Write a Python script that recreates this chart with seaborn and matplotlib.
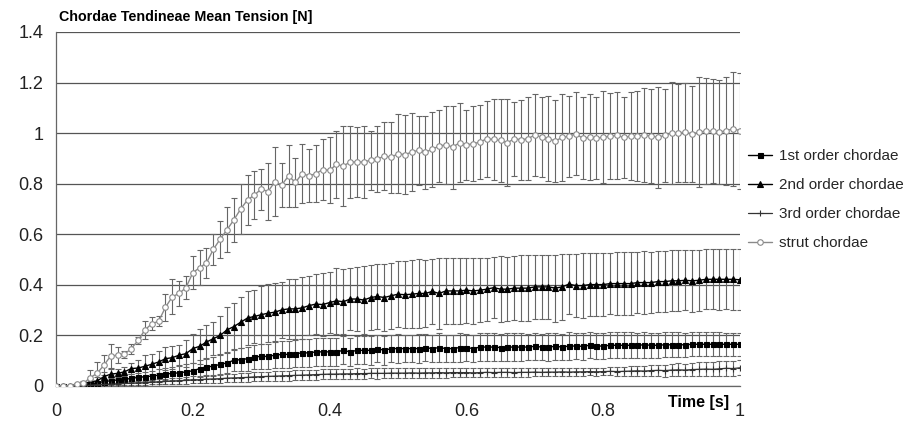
import numpy as np
import pandas as pd
import matplotlib
matplotlib.use("Agg")
import matplotlib.pyplot as plt
import seaborn as sns

# time axis, one sample every 0.01 s
time_s = np.round(np.linspace(0, 1, 101), 2)

# mean tension [N] and error (std) per chordae group
first_mean = [0, 0, 0, 0.003, 0.008, 0.008, 0.013, 0.017, 0.021, 0.024,
              0.026, 0.03, 0.034, 0.037, 0.039, 0.043, 0.047, 0.05, 0.052, 0.056,
              0.06, 0.069, 0.076, 0.078, 0.086, 0.091, 0.102, 0.104, 0.108, 0.115,
              0.117, 0.117, 0.122, 0.125, 0.125, 0.128, 0.131, 0.131, 0.135, 0.135,
              0.135, 0.135, 0.141, 0.135, 0.141, 0.141, 0.141, 0.148, 0.141, 0.148,
              0.148, 0.148, 0.148, 0.148, 0.152, 0.148, 0.152, 0.148, 0.148, 0.152,
              0.152, 0.148, 0.154, 0.154, 0.154, 0.152, 0.154, 0.154, 0.154, 0.154,
              0.157, 0.154, 0.154, 0.157, 0.154, 0.158, 0.158, 0.157, 0.161, 0.158,
              0.158, 0.161, 0.161, 0.161, 0.161, 0.161, 0.163, 0.161, 0.161, 0.163,
              0.163, 0.163, 0.163, 0.165, 0.165, 0.165, 0.165, 0.165, 0.165, 0.165,
              0.165]
first_err = [0, 0, 0, 0.002, 0.004, 0.006, 0.008, 0.01, 0.012, 0.013,
             0.015, 0.016, 0.018, 0.02, 0.021, 0.023, 0.025, 0.026, 0.028, 0.03,
             0.032, 0.034, 0.036, 0.037, 0.039, 0.041, 0.043, 0.045, 0.047, 0.048,
             0.05, 0.05, 0.051, 0.052, 0.053, 0.053, 0.054, 0.054, 0.055, 0.055,
             0.055, 0.056, 0.055, 0.056, 0.055, 0.055, 0.056, 0.055, 0.056, 0.055,
             0.056, 0.055, 0.055, 0.056, 0.055, 0.055, 0.056, 0.055, 0.055, 0.056,
             0.055, 0.055, 0.054, 0.055, 0.054, 0.054, 0.055, 0.054, 0.054, 0.053,
             0.054, 0.053, 0.054, 0.053, 0.053, 0.054, 0.053, 0.053, 0.052, 0.053,
             0.052, 0.052, 0.051, 0.052, 0.051, 0.05, 0.051, 0.05, 0.05, 0.049,
             0.049, 0.049, 0.048, 0.048, 0.048, 0.047, 0.047, 0.047, 0.046, 0.046,
             0.046]

second_mean = [0, 0, 0, 0.003, 0.008, 0.017, 0.02, 0.037, 0.047, 0.05,
               0.056, 0.069, 0.071, 0.078, 0.086, 0.095, 0.108, 0.112, 0.122, 0.128,
               0.148, 0.157, 0.174, 0.187, 0.2, 0.222, 0.235, 0.252, 0.269, 0.275,
               0.282, 0.288, 0.292, 0.301, 0.305, 0.305, 0.309, 0.318, 0.324, 0.322,
               0.33, 0.337, 0.333, 0.344, 0.344, 0.34, 0.35, 0.354, 0.35, 0.357,
               0.363, 0.361, 0.363, 0.366, 0.366, 0.374, 0.366, 0.376, 0.376, 0.376,
               0.379, 0.376, 0.379, 0.383, 0.389, 0.383, 0.383, 0.387, 0.387, 0.387,
               0.392, 0.392, 0.392, 0.387, 0.392, 0.403, 0.397, 0.397, 0.401, 0.401,
               0.401, 0.405, 0.405, 0.405, 0.405, 0.409, 0.409, 0.409, 0.413, 0.413,
               0.416, 0.416, 0.418, 0.416, 0.418, 0.422, 0.422, 0.422, 0.422, 0.422,
               0.42]
second_err = [0, 0, 0, 0.003, 0.006, 0.012, 0.015, 0.018, 0.02, 0.019,
              0.02, 0.02, 0.03, 0.044, 0.04, 0.042, 0.046, 0.045, 0.039, 0.052,
              0.058, 0.07, 0.066, 0.065, 0.078, 0.089, 0.092, 0.1, 0.107, 0.105,
              0.114, 0.115, 0.114, 0.112, 0.12, 0.12, 0.122, 0.117, 0.118, 0.126,
              0.122, 0.131, 0.128, 0.124, 0.127, 0.135, 0.128, 0.127, 0.133, 0.13,
              0.131, 0.133, 0.134, 0.135, 0.131, 0.127, 0.139, 0.131, 0.129, 0.129,
              0.128, 0.129, 0.126, 0.124, 0.121, 0.131, 0.127, 0.127, 0.131, 0.131,
              0.128, 0.128, 0.128, 0.133, 0.13, 0.119, 0.125, 0.13, 0.124, 0.124,
              0.124, 0.122, 0.125, 0.124, 0.123, 0.122, 0.124, 0.121, 0.12, 0.122,
              0.12, 0.121, 0.119, 0.122, 0.12, 0.118, 0.119, 0.12, 0.118, 0.121,
              0.12]

third_mean = [0, 0, 0, 0, 0.001, 0.003, 0.005, 0.006, 0.007, 0.008,
              0.01, 0.011, 0.012, 0.013, 0.015, 0.016, 0.018, 0.019, 0.021, 0.022,
              0.024, 0.025, 0.027, 0.028, 0.029, 0.031, 0.032, 0.033, 0.034, 0.036,
              0.037, 0.038, 0.039, 0.04, 0.041, 0.042, 0.043, 0.044, 0.045, 0.046,
              0.047, 0.047, 0.048, 0.048, 0.049, 0.049, 0.05, 0.05, 0.05, 0.051,
              0.051, 0.051, 0.052, 0.051, 0.052, 0.052, 0.053, 0.052, 0.053, 0.053,
              0.053, 0.052, 0.053, 0.054, 0.053, 0.054, 0.054, 0.053, 0.054, 0.054,
              0.055, 0.054, 0.055, 0.055, 0.056, 0.055, 0.056, 0.056, 0.057, 0.056,
              0.057, 0.058, 0.057, 0.058, 0.059, 0.06, 0.059, 0.061, 0.062, 0.061,
              0.063, 0.064, 0.063, 0.065, 0.066, 0.067, 0.066, 0.068, 0.07, 0.069,
              0.072]
third_err = [0, 0, 0, 0, 0.001, 0.002, 0.003, 0.004, 0.005, 0.005,
             0.006, 0.007, 0.008, 0.008, 0.009, 0.01, 0.011, 0.011, 0.012, 0.013,
             0.014, 0.014, 0.015, 0.015, 0.016, 0.016, 0.017, 0.017, 0.018, 0.018,
             0.018, 0.019, 0.019, 0.019, 0.02, 0.02, 0.02, 0.02, 0.02, 0.02,
             0.02, 0.021, 0.02, 0.02, 0.021, 0.02, 0.02, 0.021, 0.02, 0.02,
             0.02, 0.02, 0.019, 0.02, 0.02, 0.019, 0.02, 0.019, 0.019, 0.019,
             0.018, 0.018, 0.019, 0.018, 0.018, 0.017, 0.018, 0.017, 0.017, 0.017,
             0.017, 0.016, 0.017, 0.016, 0.016, 0.016, 0.015, 0.016, 0.015, 0.015,
             0.015, 0.016, 0.017, 0.018, 0.019, 0.02, 0.021, 0.022, 0.023, 0.024,
             0.024, 0.025, 0.025, 0.026, 0.027, 0.027, 0.028, 0.029, 0.029, 0.03,
             0.03]

strut_mean = [0, 0, 0, 0.008, 0.01, 0.033, 0.05, 0.082, 0.119, 0.122,
              0.125, 0.148, 0.18, 0.222, 0.246, 0.256, 0.311, 0.353, 0.366, 0.389,
              0.448, 0.468, 0.487, 0.54, 0.581, 0.618, 0.657, 0.70, 0.736, 0.755,
              0.779, 0.769, 0.808, 0.795, 0.831, 0.805, 0.84, 0.831, 0.84, 0.856,
              0.853, 0.876, 0.87, 0.886, 0.886, 0.886, 0.893, 0.897, 0.91, 0.904,
              0.919, 0.915, 0.925, 0.932, 0.925, 0.936, 0.949, 0.954, 0.945, 0.962,
              0.954, 0.958, 0.965, 0.978, 0.975, 0.971, 0.962, 0.978, 0.974, 0.978,
              0.993, 0.984, 0.978, 0.969, 0.983, 0.988, 0.997, 0.98, 0.984, 0.98,
              0.984, 0.988, 0.991, 0.983, 0.988, 0.988, 0.993, 0.988, 0.984, 0.991,
              1.001, 1.001, 1.004, 0.997, 1.004, 1.008, 1.008, 1.004, 1.01, 1.017,
              1.01]
strut_err = [0, 0, 0, 0.005, 0.01, 0.03, 0.043, 0.04, 0.048, 0.032,
             0.015, 0.02, 0.015, 0.037, 0.025, 0.02, 0.053, 0.069, 0.05, 0.046,
             0.066, 0.068, 0.059, 0.063, 0.073, 0.088, 0.088, 0.097, 0.10, 0.096,
             0.081, 0.111, 0.137, 0.087, 0.123, 0.097, 0.116, 0.105, 0.112, 0.119,
             0.131, 0.131, 0.157, 0.141, 0.138, 0.141, 0.117, 0.13, 0.133, 0.142,
             0.157, 0.157, 0.155, 0.137, 0.144, 0.149, 0.144, 0.155, 0.164, 0.157,
             0.139, 0.148, 0.146, 0.15, 0.162, 0.164, 0.173, 0.146, 0.158, 0.163,
             0.161, 0.157, 0.167, 0.163, 0.171, 0.16, 0.164, 0.161, 0.17, 0.161,
             0.183, 0.17, 0.172, 0.161, 0.175, 0.179, 0.187, 0.186, 0.2, 0.185,
             0.203, 0.195, 0.196, 0.19, 0.218, 0.209, 0.207, 0.205, 0.214, 0.225,
             0.229]

labels = ["1st order chordae", "2nd order chordae", "3rd order chordae", "strut chordae"]
means = [first_mean, second_mean, third_mean, strut_mean]
errs = [first_err, second_err, third_err, strut_err]

sns.set_style("white")
plt.rcParams["font.family"] = ["Liberation Sans", "DejaVu Sans"]

fig = plt.figure(figsize=(9.09, 4.28), dpi=100)
ax = fig.add_axes([56 / 909, 1 - 386 / 428, 684 / 909, 354 / 428])

# marker styles per series (Excel-like)
styles = [
    dict(color="black", marker="s", markersize=3.6, mfc="black", mec="black", lw=1.0),
    dict(color="black", marker="^", markersize=4.2, mfc="black", mec="black", lw=1.0),
    dict(color="#333333", marker="+", markersize=4.5, mfc="#333333", mec="#333333", lw=0.9),
    dict(color="#8a8a8a", marker="o", markersize=4, mfc="white", mec="#8a8a8a", lw=1.0),
]

for lab, m, e, st in zip(labels, means, errs, styles):
    ax.errorbar(time_s, m, yerr=e, fmt="none", ecolor="#666666",
                elinewidth=0.8, capsize=2.2, capthick=0.8, zorder=2)
    df = pd.DataFrame({"t": time_s, "v": m})
    sns.lineplot(data=df, x="t", y="v", ax=ax, label=lab, color=st["color"],
                 marker=st["marker"], markersize=st["markersize"],
                 markerfacecolor=st["mfc"], markeredgecolor=st["mec"],
                 markeredgewidth=0.8, linewidth=st["lw"], zorder=3)

ax.set_xlim(0, 1)
ax.set_ylim(0, 1.4)
ax.set_xticks([0, 0.2, 0.4, 0.6, 0.8, 1])
ax.set_xticklabels(["0", "0.2", "0.4", "0.6", "0.8", "1"])
ax.set_yticks([0, 0.2, 0.4, 0.6, 0.8, 1, 1.2, 1.4])
ax.set_yticklabels(["0", "0.2", "0.4", "0.6", "0.8", "1", "1.2", "1.4"])
ax.tick_params(axis="both", labelsize=13, colors="#222222", length=4,
               width=0.8, direction="out", pad=5)
ax.tick_params(axis="x", length=5, pad=7)
ax.yaxis.grid(True, color="#555555", linewidth=0.9)
ax.xaxis.grid(False)
ax.set_axisbelow(True)
for side in ["top", "right"]:
    ax.spines[side].set_visible(False)
for side in ["left", "bottom"]:
    ax.spines[side].set_color("#666666")
    ax.spines[side].set_linewidth(0.9)

ax.set_xlabel("")
ax.set_ylabel("")
fig.text(59 / 909, 1 - 17 / 428, "Chordae Tendineae Mean Tension [N]",
         fontsize=10.3, fontweight="bold", color="black", va="center", ha="left")
fig.text(729 / 909, 1 - 402 / 428, "Time [s]", fontsize=11.5,
         fontweight="bold", color="black", va="center", ha="right")

ax.get_legend().remove()
handles, labs = ax.get_legend_handles_labels()
fig.legend(handles, labs, loc="upper left", bbox_to_anchor=(748 / 909, 1 - 149 / 428),
           frameon=False, fontsize=11, handlelength=1.6, handletextpad=0.4,
           labelspacing=0.98, borderpad=0, borderaxespad=0)

fig.savefig("out.png", dpi=100)
